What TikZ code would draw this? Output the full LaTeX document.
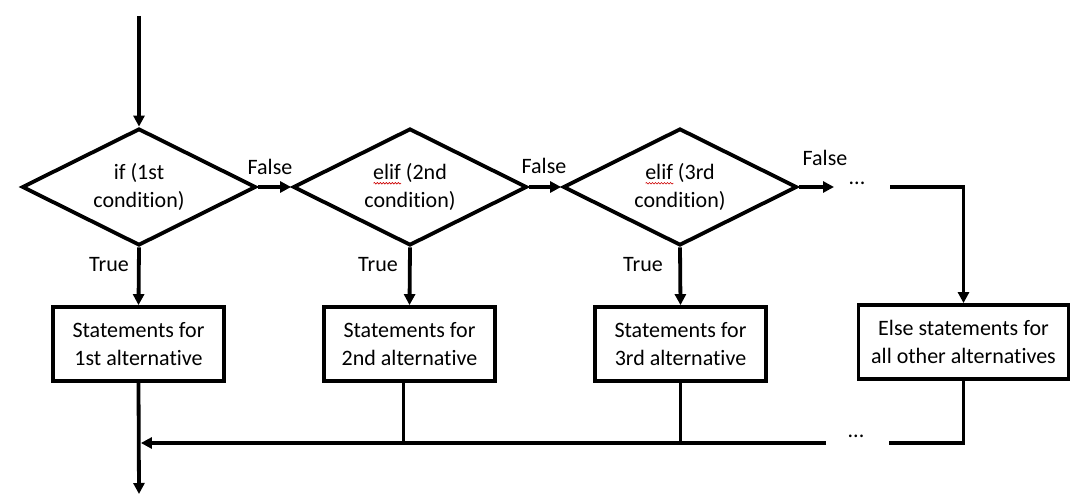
\documentclass[tikz,border=0pt]{standalone}
\usepackage{fontspec}
\setmainfont{Carlito}[Ligatures=NoCommon]
\usetikzlibrary{shapes.geometric,arrows.meta,decorations.pathmorphing}
\tikzset{squig/.style={red!80!black,line width=0.6pt,decorate,decoration={snake,amplitude=0.8pt,segment length=3pt}}}
\newcommand\wavyword[1]{\setbox0\hbox{#1}\rlap{\tikz[baseline=0pt]\draw[squig] (0pt,-3.5pt)--(\wd0,-3.5pt);}\box0}
\begin{document}
\begin{tikzpicture}[x=1pt,y=-1pt,
  every node/.style={font=\fontsize{22}{27.5}\selectfont},
  line/.style={line width=3.8pt},
  arr/.style={line, -{Triangle[length=11pt,width=11pt]}},
  dia/.style={diamond,draw,line width=3.8pt,minimum width=234pt,minimum height=117pt,inner sep=0pt,align=center,aspect=2},
  box/.style={draw,line width=3.8pt,minimum width=171pt,minimum height=74pt,inner sep=2pt,align=center},
  lbl/.style={inner sep=0pt}
]
\useasboundingbox (0,0) rectangle (1083,502);
\node[dia] (d1) at (139,187) {if (1st\\condition)};
\node[dia] (d2) at (410,187) {\wavyword{elif}\ (2nd\\condition)};
\node[dia] (d3) at (680,187) {\wavyword{elif}\ (3rd\\condition)};
\node[box] (b1) at (138.5,344) {Statements for\\1st alternative};
\node[box] (b2) at (409.5,344) {Statements for\\2nd alternative};
\node[box] (b3) at (680.5,344) {Statements for\\3rd alternative};
\node[box,minimum width=210pt] (b4) at (963.5,342) {Else statements for\\all other alternatives};
\coordinate (top) at (139,16);
\coordinate (fend) at (834,187);
\coordinate (fcont) at (890,187);
\coordinate (bend) at (139,494);
\coordinate (join) at (139,443);
\coordinate (bcont) at (826,443);
\coordinate (bcont2) at (889,443);
\node[lbl] (dots1) at (857,183) {...};
\node[lbl] (dots2) at (856,436) {...};
\node[lbl] (f1) at (270,167) {False};
\node[lbl] (f2) at (544,166) {False};
\node[lbl] (f3) at (825,158) {False};
\node[lbl] (t1) at (109,265) {True};
\node[lbl] (t2) at (378,265) {True};
\node[lbl] (t3) at (643,265) {True};
\draw[arr] (top) -- (d1.north);
\draw[arr] (d1.east) -- (d2.west);
\draw[arr] (d2.east) -- (d3.west);
\draw[arr] (d3.east) -- (fend);
\draw[arr] (fcont) -| (b4.north);
\draw[arr] (d1.south) -- (b1.north);
\draw[arr] (d2.south) -- (b2.north);
\draw[arr] (d3.south) -- (b3.north);
\draw[arr] (b1.south) -- (bend);
\draw[arr] (bcont) -- ([xshift=1.9pt]join);
\draw[line] ([xshift=-6pt]b2.south) -- ++(0,62);
\draw[line] (b3.south) -- (b3.south |- join);
\draw[line] (bcont2) -| (b4.south);
\end{tikzpicture}
\end{document}
